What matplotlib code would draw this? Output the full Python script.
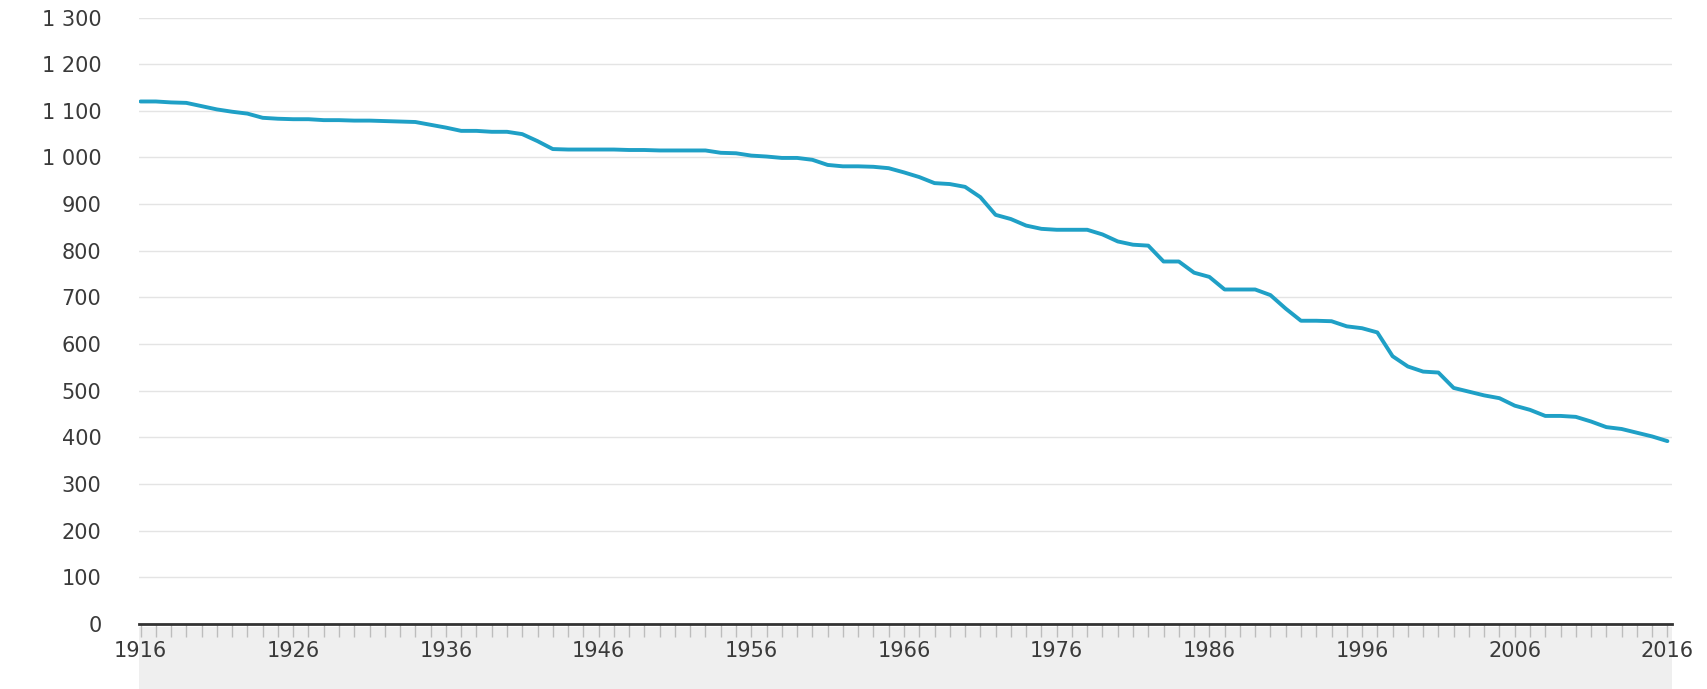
import numpy as np
import matplotlib
matplotlib.use('Agg')
import matplotlib.pyplot as plt
from matplotlib.patches import Rectangle
from matplotlib.ticker import MultipleLocator, FuncFormatter

years = list(range(1916, 2017))
values = [1120, 1120, 1118, 1117, 1110, 1103, 1098, 1094, 1085, 1083,
          1082, 1082, 1080, 1080, 1079, 1079, 1078, 1077, 1076, 1070,
          1064, 1057, 1057, 1055, 1055, 1050, 1035, 1018, 1017, 1017,
          1017, 1017, 1016, 1016, 1015, 1015, 1015, 1015, 1010, 1009,
          1004, 1002, 999, 999, 995, 984, 981, 981, 980, 977,
          968, 958, 945, 943, 937, 915, 877, 868, 854, 847,
          845, 845, 845, 835, 820, 813, 811, 777, 777, 753,
          744, 717, 717, 717, 705, 676, 650, 650, 649, 638,
          634, 625, 574, 552, 541, 539, 506, 498, 490, 484,
          468, 459, 446, 446, 444, 434, 422, 418, 410, 402,
          392]

y_ticks = list(range(0, 1301, 100))
x_labels = list(range(1916, 2017, 10))

fig = plt.figure(figsize=(17.08, 6.89), dpi=100)
ax = fig.add_axes([139/1708, 65/689, (1672-139)/1708, (624-17.5)/689])

# line stops a little short of the axis end, as in the original
ax.plot(years, values, color='#1fa0c6', lw=2.8,
        solid_capstyle='round', solid_joinstyle='round', zorder=3)

ax.set_xlim(1915.9, 2016.3)
ax.set_ylim(0, 1300)
ax.set_yticks(y_ticks)
ax.yaxis.set_major_formatter(FuncFormatter(lambda v, p: f'{int(v):,}'.replace(',', ' ')))
ax.set_xticks(x_labels)
ax.xaxis.set_minor_locator(MultipleLocator(1))
ax.grid(axis='y', color='#e4e4e4', lw=1)
ax.set_axisbelow(True)

for s in ['top', 'right', 'left']:
    ax.spines[s].set_visible(False)
ax.spines['bottom'].set_color('#333333')
ax.spines['bottom'].set_linewidth(2)
ax.spines['bottom'].set_zorder(4)

ax.tick_params(axis='y', length=0, pad=27, labelsize=15, labelcolor='#3a3a3a')
ax.tick_params(axis='x', which='both', length=9, width=1, color='#bdbdbd',
               pad=3, labelsize=15, labelcolor='#3a3a3a')

# grey band under the axis
ax.add_patch(Rectangle((0, -0.12), 1, 0.115, transform=ax.transAxes,
                       facecolor='#efefef', edgecolor='none', clip_on=False, zorder=0))

fig.savefig('out.png', dpi=100)
